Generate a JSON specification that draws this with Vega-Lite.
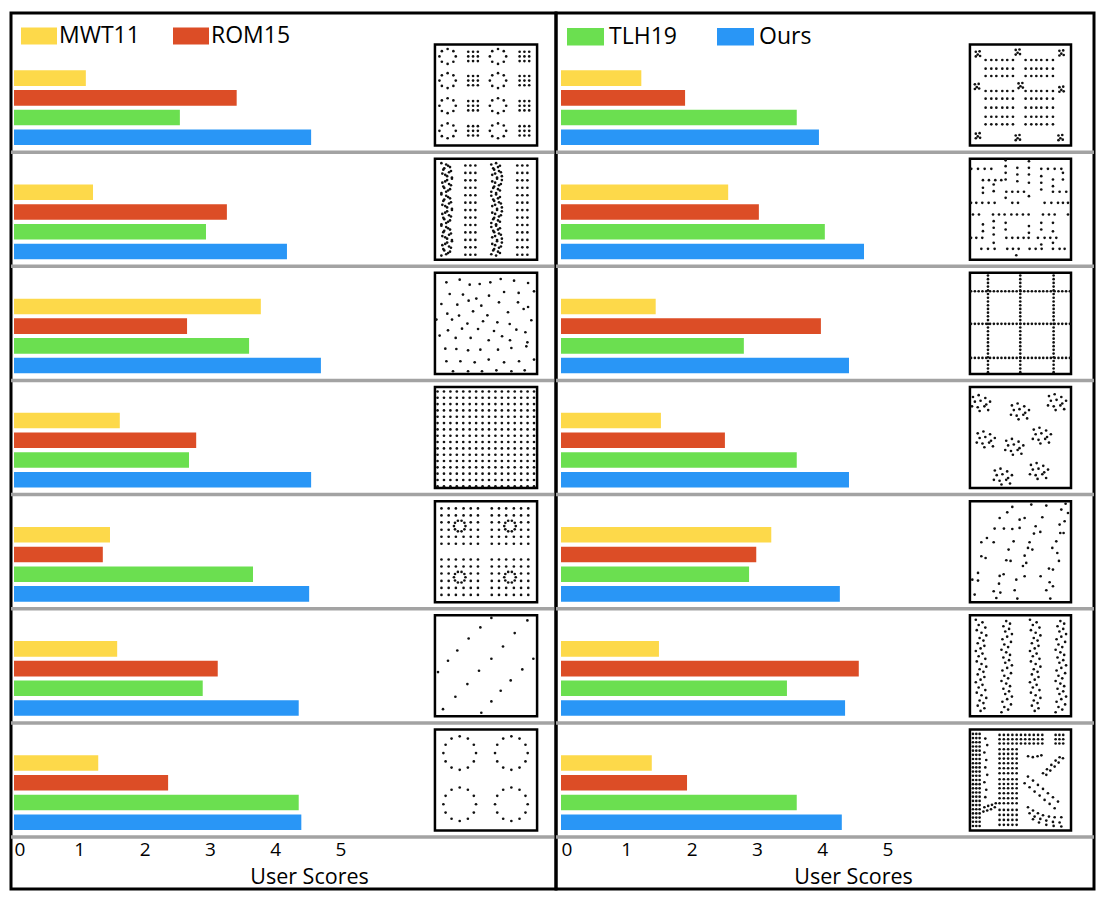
{
  "$schema": "https://vega.github.io/schema/vega-lite/v6.json",
  "padding": {"left": 7, "top": 11, "right": 10, "bottom": 9},
  "autosize": {"type": "pad"},
  "background": "white",
  "spacing": 0,
  "bounds": "flush",
  "config": {
    "font": "Open Sans",
    "view": {"stroke": "black", "strokeWidth": 3},
    "axis": {"labelFont": "Open Sans", "labelFontSize": 19, "labelColor": "black", "titleFont": "Open Sans", "titleFontSize": 21.5, "titleFontWeight": "normal", "titleColor": "black", "grid": false, "ticks": false, "domain": false},
    "legend": {"labelFont": "Open Sans", "labelFontSize": 23, "labelColor": "black"}
  },
  "datasets": {
    "bars": [
      {"panel": "L", "group": 1, "method": "MWT11", "score": 1.10},
      {"panel": "L", "group": 1, "method": "ROM15", "score": 3.41},
      {"panel": "L", "group": 1, "method": "TLH19", "score": 2.54},
      {"panel": "L", "group": 1, "method": "Ours", "score": 4.55},
      {"panel": "L", "group": 2, "method": "MWT11", "score": 1.21},
      {"panel": "L", "group": 2, "method": "ROM15", "score": 3.26},
      {"panel": "L", "group": 2, "method": "TLH19", "score": 2.94},
      {"panel": "L", "group": 2, "method": "Ours", "score": 4.18},
      {"panel": "L", "group": 3, "method": "MWT11", "score": 3.78},
      {"panel": "L", "group": 3, "method": "ROM15", "score": 2.65},
      {"panel": "L", "group": 3, "method": "TLH19", "score": 3.60},
      {"panel": "L", "group": 3, "method": "Ours", "score": 4.70},
      {"panel": "L", "group": 4, "method": "MWT11", "score": 1.62},
      {"panel": "L", "group": 4, "method": "ROM15", "score": 2.79},
      {"panel": "L", "group": 4, "method": "TLH19", "score": 2.68},
      {"panel": "L", "group": 4, "method": "Ours", "score": 4.55},
      {"panel": "L", "group": 5, "method": "MWT11", "score": 1.47},
      {"panel": "L", "group": 5, "method": "ROM15", "score": 1.36},
      {"panel": "L", "group": 5, "method": "TLH19", "score": 3.66},
      {"panel": "L", "group": 5, "method": "Ours", "score": 4.52},
      {"panel": "L", "group": 6, "method": "MWT11", "score": 1.58},
      {"panel": "L", "group": 6, "method": "ROM15", "score": 3.12},
      {"panel": "L", "group": 6, "method": "TLH19", "score": 2.89},
      {"panel": "L", "group": 6, "method": "Ours", "score": 4.36},
      {"panel": "L", "group": 7, "method": "MWT11", "score": 1.29},
      {"panel": "L", "group": 7, "method": "ROM15", "score": 2.36},
      {"panel": "L", "group": 7, "method": "TLH19", "score": 4.36},
      {"panel": "L", "group": 7, "method": "Ours", "score": 4.40},
      {"panel": "R", "group": 1, "method": "MWT11", "score": 1.23},
      {"panel": "R", "group": 1, "method": "ROM15", "score": 1.90},
      {"panel": "R", "group": 1, "method": "TLH19", "score": 3.61},
      {"panel": "R", "group": 1, "method": "Ours", "score": 3.95},
      {"panel": "R", "group": 2, "method": "MWT11", "score": 2.56},
      {"panel": "R", "group": 2, "method": "ROM15", "score": 3.03},
      {"panel": "R", "group": 2, "method": "TLH19", "score": 4.04},
      {"panel": "R", "group": 2, "method": "Ours", "score": 4.64},
      {"panel": "R", "group": 3, "method": "MWT11", "score": 1.45},
      {"panel": "R", "group": 3, "method": "ROM15", "score": 3.98},
      {"panel": "R", "group": 3, "method": "TLH19", "score": 2.80},
      {"panel": "R", "group": 3, "method": "Ours", "score": 4.41},
      {"panel": "R", "group": 4, "method": "MWT11", "score": 1.53},
      {"panel": "R", "group": 4, "method": "ROM15", "score": 2.51},
      {"panel": "R", "group": 4, "method": "TLH19", "score": 3.61},
      {"panel": "R", "group": 4, "method": "Ours", "score": 4.41},
      {"panel": "R", "group": 5, "method": "MWT11", "score": 3.22},
      {"panel": "R", "group": 5, "method": "ROM15", "score": 2.99},
      {"panel": "R", "group": 5, "method": "TLH19", "score": 2.88},
      {"panel": "R", "group": 5, "method": "Ours", "score": 4.27},
      {"panel": "R", "group": 6, "method": "MWT11", "score": 1.50},
      {"panel": "R", "group": 6, "method": "ROM15", "score": 4.56},
      {"panel": "R", "group": 6, "method": "TLH19", "score": 3.46},
      {"panel": "R", "group": 6, "method": "Ours", "score": 4.35},
      {"panel": "R", "group": 7, "method": "MWT11", "score": 1.39},
      {"panel": "R", "group": 7, "method": "ROM15", "score": 1.93},
      {"panel": "R", "group": 7, "method": "TLH19", "score": 3.61},
      {"panel": "R", "group": 7, "method": "Ours", "score": 4.30}
    ],
    "dots": [
      {"p": "L", "group": 1, "u": [0.1,0.16,0.185,0.16,0.1,0.04,0.015,0.04,0.625,0.685,0.71,0.685,0.625,0.565,0.54,0.565], "v": [0,0.023,0.08,0.137,0.16,0.137,0.08,0.023,0,0.023,0.08,0.137,0.16,0.137,0.08,0.023]},
      {"p": "L", "group": 1, "u": [0.1,0.16,0.185,0.16,0.1,0.04,0.015,0.04,0.625,0.685,0.71,0.685,0.625,0.565,0.54,0.565], "v": [0.26,0.283,0.34,0.397,0.42,0.397,0.34,0.283,0.26,0.283,0.34,0.397,0.42,0.397,0.34,0.283]},
      {"p": "L", "group": 1, "u": [0.1,0.16,0.185,0.16,0.1,0.04,0.015,0.04,0.625,0.685,0.71,0.685,0.625,0.565,0.54,0.565], "v": [0.53,0.553,0.61,0.667,0.69,0.667,0.61,0.553,0.53,0.553,0.61,0.667,0.69,0.667,0.61,0.553]},
      {"p": "L", "group": 1, "u": [0.1,0.16,0.185,0.16,0.1,0.04,0.015,0.04,0.625,0.685,0.71,0.685,0.625,0.565,0.54,0.565], "v": [0.8,0.823,0.88,0.937,0.96,0.937,0.88,0.823,0.8,0.823,0.88,0.937,0.96,0.937,0.88,0.823]},
      {"p": "L", "group": 1, "u": [0.315,0.365,0.415,0.85,0.9,0.95,0.315,0.365,0.415,0.85,0.9,0.95,0.315,0.365,0.415,0.85,0.9,0.95], "v": [0.03,0.03,0.03,0.03,0.03,0.03,0.08,0.08,0.08,0.08,0.08,0.08,0.13,0.13,0.13,0.13,0.13,0.13]},
      {"p": "L", "group": 1, "u": [0.315,0.365,0.415,0.85,0.9,0.95,0.315,0.365,0.415,0.85,0.9,0.95,0.315,0.365,0.415,0.85,0.9,0.95], "v": [0.29,0.29,0.29,0.29,0.29,0.29,0.34,0.34,0.34,0.34,0.34,0.34,0.39,0.39,0.39,0.39,0.39,0.39]},
      {"p": "L", "group": 1, "u": [0.315,0.365,0.415,0.85,0.9,0.95,0.315,0.365,0.415,0.85,0.9,0.95,0.315,0.365,0.415,0.85,0.9,0.95], "v": [0.56,0.56,0.56,0.56,0.56,0.56,0.61,0.61,0.61,0.61,0.61,0.61,0.66,0.66,0.66,0.66,0.66,0.66]},
      {"p": "L", "group": 1, "u": [0.315,0.365,0.415,0.85,0.9,0.95,0.315,0.365,0.415,0.85,0.9,0.95,0.315,0.365,0.415,0.85,0.9,0.95], "v": [0.83,0.83,0.83,0.83,0.83,0.83,0.88,0.88,0.88,0.88,0.88,0.88,0.93,0.93,0.93,0.93,0.93,0.93]},

      {"p": "L", "group": 2, "u": [0.285,0.337,0.389,0.826,0.878,0.931,0.285,0.337,0.389,0.826,0.878,0.931,0.285,0.337,0.389,0.826,0.878,0.931], "v": [0.025,0.025,0.025,0.025,0.025,0.025,0.105,0.105,0.105,0.105,0.105,0.105,0.185,0.185,0.185,0.185,0.185,0.185]},
      {"p": "L", "group": 2, "u": [0.285,0.337,0.389,0.826,0.878,0.931,0.285,0.337,0.389,0.826,0.878,0.931,0.285,0.337,0.389,0.826,0.878,0.931], "v": [0.265,0.265,0.265,0.265,0.265,0.265,0.345,0.345,0.345,0.345,0.345,0.345,0.425,0.425,0.425,0.425,0.425,0.425]},
      {"p": "L", "group": 2, "u": [0.285,0.337,0.389,0.826,0.878,0.931,0.285,0.337,0.389,0.826,0.878,0.931,0.285,0.337,0.389,0.826,0.878,0.931], "v": [0.505,0.505,0.505,0.505,0.505,0.505,0.585,0.585,0.585,0.585,0.585,0.585,0.665,0.665,0.665,0.665,0.665,0.665]},
      {"p": "L", "group": 2, "u": [0.285,0.337,0.389,0.826,0.878,0.931,0.285,0.337,0.389,0.826,0.878,0.931,0.285,0.337,0.389,0.826,0.878,0.931], "v": [0.745,0.745,0.745,0.745,0.745,0.745,0.825,0.825,0.825,0.825,0.825,0.825,0.905,0.905,0.905,0.905,0.905,0.905]},
      {"p": "L", "group": 2, "u": [0.285,0.337,0.389,0.826,0.878,0.931], "v": [0.985,0.985,0.985,0.985,0.985,0.985]},
      {"p": "L", "group": 2, "u": [0.035,0.105,0.065,0.135,0.045,0.095,0.145,0.075,0.115,0.055,0.125,0.085,0.035,0.105,0.065,0.135,0.045,0.095,0.145,0.075,0.115,0.055,0.125,0.085,0.035,0.105,0.065,0.135,0.045,0.095,0.145,0.075,0.115,0.055,0.125,0.085], "v": [0,0.028,0.056,0.084,0.112,0.14,0.168,0.196,0.224,0.252,0.28,0.308,0.336,0.364,0.392,0.42,0.448,0.476,0.504,0.532,0.56,0.588,0.616,0.644,0.672,0.7,0.728,0.756,0.784,0.812,0.84,0.868,0.896,0.924,0.952,0.98]},
      {"p": "L", "group": 2, "u": [0.085,0.125,0.055,0.115,0.075,0.145,0.095,0.045,0.135,0.065,0.105,0.035,0.085,0.125,0.055,0.115,0.075,0.145,0.095,0.045,0.135,0.065,0.105,0.035,0.085,0.125,0.055,0.115,0.075,0.145,0.095,0.045,0.135,0.065,0.105,0.035], "v": [0.014,0.042,0.07,0.098,0.126,0.154,0.182,0.21,0.238,0.266,0.294,0.322,0.35,0.378,0.406,0.434,0.462,0.49,0.518,0.546,0.574,0.602,0.63,0.658,0.686,0.714,0.742,0.77,0.798,0.826,0.854,0.882,0.91,0.938,0.966,0.994]},
      {"p": "L", "group": 2, "u": [0.555,0.625,0.585,0.655,0.565,0.615,0.665,0.595,0.635,0.575,0.645,0.605,0.555,0.625,0.585,0.655,0.565,0.615,0.665,0.595,0.635,0.575,0.645,0.605,0.555,0.625,0.585,0.655,0.565,0.615,0.665,0.595,0.635,0.575,0.645,0.605], "v": [0.014,0.042,0.07,0.098,0.126,0.154,0.182,0.21,0.238,0.266,0.294,0.322,0.35,0.378,0.406,0.434,0.462,0.49,0.518,0.546,0.574,0.602,0.63,0.658,0.686,0.714,0.742,0.77,0.798,0.826,0.854,0.882,0.91,0.938,0.966,0.994]},
      {"p": "L", "group": 2, "u": [0.605,0.645,0.575,0.635,0.595,0.665,0.615,0.565,0.655,0.585,0.625,0.555,0.605,0.645,0.575,0.635,0.595,0.665,0.615,0.565,0.655,0.585,0.625,0.555,0.605,0.645,0.575,0.635,0.595,0.665,0.615,0.565,0.655,0.585,0.625,0.555], "v": [0,0.028,0.056,0.084,0.112,0.14,0.168,0.196,0.224,0.252,0.28,0.308,0.336,0.364,0.392,0.42,0.448,0.476,0.504,0.532,0.56,0.588,0.616,0.644,0.672,0.7,0.728,0.756,0.784,0.812,0.84,0.868,0.896,0.924,0.952,0.98]},

      {"p": "L", "group": 3, "u": [0.087,0.226,0.33,0.434,0.545,0.653,0.792,0.938,0.122,0.26,0.399,0.531,0.688,0.84,1.0,0.035,0.201,0.319,0.451,0.635,0.833,0.938,0.097,0.219,0.365,0.514,0.729,0.892,-0.017,0.146,0.306,0.469,0.618,0.747,0.972,0.104,0.25,0.417,0.583,0.816,0.91,0.017,0.184,0.34,0.528,0.667,0.75,0.931,0.076,0.191,0.313,0.441,0.625,0.764,0.92,0.087,0.233,0.382,0.528,0.688,0.844,1.0,0.156,0.313,0.458,0.608,0.764,0.903], "v": [0.054,0.025,0.079,0.072,0.054,0.018,0.036,0.061,0.179,0.186,0.229,0.197,0.158,0.168,0.151,0.287,0.294,0.251,0.305,0.269,0.269,0.319,0.391,0.412,0.366,0.409,0.376,0.341,0.455,0.455,0.498,0.473,0.484,0.502,0.462,0.57,0.552,0.556,0.577,0.563,0.591,0.627,0.652,0.652,0.677,0.634,0.677,0.699,0.767,0.771,0.785,0.778,0.778,0.76,0.742,0.903,0.903,0.914,0.885,0.914,0.903,0.885,1.01,1.01,1.01,1.0,1.01,1.0]},

      {"p": "L", "group": 4, "u": [-0.005,0.062,0.129,0.196,0.263,0.33,0.397,0.464,0.531,0.598,0.665,0.732,0.799,0.866,0.933,1.0], "v": [0,0,0,0,0,0,0,0,0,0,0,0,0,0,0,0]},
      {"p": "L", "group": 4, "u": [-0.005,0.062,0.129,0.196,0.263,0.33,0.397,0.464,0.531,0.598,0.665,0.732,0.799,0.866,0.933,1.0], "v": [0.068,0.068,0.068,0.068,0.068,0.068,0.068,0.068,0.068,0.068,0.068,0.068,0.068,0.068,0.068,0.068]},
      {"p": "L", "group": 4, "u": [-0.005,0.062,0.129,0.196,0.263,0.33,0.397,0.464,0.531,0.598,0.665,0.732,0.799,0.866,0.933,1.0], "v": [0.136,0.136,0.136,0.136,0.136,0.136,0.136,0.136,0.136,0.136,0.136,0.136,0.136,0.136,0.136,0.136]},
      {"p": "L", "group": 4, "u": [-0.005,0.062,0.129,0.196,0.263,0.33,0.397,0.464,0.531,0.598,0.665,0.732,0.799,0.866,0.933,1.0], "v": [0.204,0.204,0.204,0.204,0.204,0.204,0.204,0.204,0.204,0.204,0.204,0.204,0.204,0.204,0.204,0.204]},
      {"p": "L", "group": 4, "u": [-0.005,0.062,0.129,0.196,0.263,0.33,0.397,0.464,0.531,0.598,0.665,0.732,0.799,0.866,0.933,1.0], "v": [0.272,0.272,0.272,0.272,0.272,0.272,0.272,0.272,0.272,0.272,0.272,0.272,0.272,0.272,0.272,0.272]},
      {"p": "L", "group": 4, "u": [-0.005,0.062,0.129,0.196,0.263,0.33,0.397,0.464,0.531,0.598,0.665,0.732,0.799,0.866,0.933,1.0], "v": [0.34,0.34,0.34,0.34,0.34,0.34,0.34,0.34,0.34,0.34,0.34,0.34,0.34,0.34,0.34,0.34]},
      {"p": "L", "group": 4, "u": [-0.005,0.062,0.129,0.196,0.263,0.33,0.397,0.464,0.531,0.598,0.665,0.732,0.799,0.866,0.933,1.0], "v": [0.408,0.408,0.408,0.408,0.408,0.408,0.408,0.408,0.408,0.408,0.408,0.408,0.408,0.408,0.408,0.408]},
      {"p": "L", "group": 4, "u": [-0.005,0.062,0.129,0.196,0.263,0.33,0.397,0.464,0.531,0.598,0.665,0.732,0.799,0.866,0.933,1.0], "v": [0.476,0.476,0.476,0.476,0.476,0.476,0.476,0.476,0.476,0.476,0.476,0.476,0.476,0.476,0.476,0.476]},
      {"p": "L", "group": 4, "u": [-0.005,0.062,0.129,0.196,0.263,0.33,0.397,0.464,0.531,0.598,0.665,0.732,0.799,0.866,0.933,1.0], "v": [0.544,0.544,0.544,0.544,0.544,0.544,0.544,0.544,0.544,0.544,0.544,0.544,0.544,0.544,0.544,0.544]},
      {"p": "L", "group": 4, "u": [-0.005,0.062,0.129,0.196,0.263,0.33,0.397,0.464,0.531,0.598,0.665,0.732,0.799,0.866,0.933,1.0], "v": [0.612,0.612,0.612,0.612,0.612,0.612,0.612,0.612,0.612,0.612,0.612,0.612,0.612,0.612,0.612,0.612]},
      {"p": "L", "group": 4, "u": [-0.005,0.062,0.129,0.196,0.263,0.33,0.397,0.464,0.531,0.598,0.665,0.732,0.799,0.866,0.933,1.0], "v": [0.68,0.68,0.68,0.68,0.68,0.68,0.68,0.68,0.68,0.68,0.68,0.68,0.68,0.68,0.68,0.68]},
      {"p": "L", "group": 4, "u": [-0.005,0.062,0.129,0.196,0.263,0.33,0.397,0.464,0.531,0.598,0.665,0.732,0.799,0.866,0.933,1.0], "v": [0.748,0.748,0.748,0.748,0.748,0.748,0.748,0.748,0.748,0.748,0.748,0.748,0.748,0.748,0.748,0.748]},
      {"p": "L", "group": 4, "u": [-0.005,0.062,0.129,0.196,0.263,0.33,0.397,0.464,0.531,0.598,0.665,0.732,0.799,0.866,0.933,1.0], "v": [0.816,0.816,0.816,0.816,0.816,0.816,0.816,0.816,0.816,0.816,0.816,0.816,0.816,0.816,0.816,0.816]},
      {"p": "L", "group": 4, "u": [-0.005,0.062,0.129,0.196,0.263,0.33,0.397,0.464,0.531,0.598,0.665,0.732,0.799,0.866,0.933,1.0], "v": [0.884,0.884,0.884,0.884,0.884,0.884,0.884,0.884,0.884,0.884,0.884,0.884,0.884,0.884,0.884,0.884]},
      {"p": "L", "group": 4, "u": [-0.005,0.062,0.129,0.196,0.263,0.33,0.397,0.464,0.531,0.598,0.665,0.732,0.799,0.866,0.933,1.0], "v": [0.952,0.952,0.952,0.952,0.952,0.952,0.952,0.952,0.952,0.952,0.952,0.952,0.952,0.952,0.952,0.952]},
      {"p": "L", "group": 4, "u": [-0.005,0.062,0.129,0.196,0.263,0.33,0.397,0.464,0.531,0.598,0.665,0.732,0.799,0.866,0.933,1.0], "v": [1.02,1.02,1.02,1.02,1.02,1.02,1.02,1.02,1.02,1.02,1.02,1.02,1.02,1.02,1.02,1.02]},

      {"p": "L", "group": 5, "u": [0.036,0.111,0.186,0.266,0.341,0.416,0.56,0.635,0.71,0.79,0.865,0.94,0.036,0.111,0.186,0.266,0.341,0.416,0.56,0.635,0.71,0.79,0.865,0.94], "v": [0.03,0.03,0.03,0.03,0.03,0.03,0.03,0.03,0.03,0.03,0.03,0.03,0.105,0.105,0.105,0.105,0.105,0.105,0.105,0.105,0.105,0.105,0.105,0.105]},
      {"p": "L", "group": 5, "u": [0.036,0.111,0.341,0.416,0.56,0.635,0.865,0.94,0.036,0.111,0.341,0.416,0.56,0.635,0.865,0.94], "v": [0.18,0.18,0.18,0.18,0.18,0.18,0.18,0.18,0.26,0.26,0.26,0.26,0.26,0.26,0.26,0.26]},
      {"p": "L", "group": 5, "u": [0.036,0.111,0.186,0.266,0.341,0.416,0.56,0.635,0.71,0.79,0.865,0.94,0.036,0.111,0.186,0.266,0.341,0.416,0.56,0.635,0.71,0.79,0.865,0.94], "v": [0.335,0.335,0.335,0.335,0.335,0.335,0.335,0.335,0.335,0.335,0.335,0.335,0.41,0.41,0.41,0.41,0.41,0.41,0.41,0.41,0.41,0.41,0.41,0.41]},
      {"p": "L", "group": 5, "u": [0.036,0.111,0.186,0.266,0.341,0.416,0.56,0.635,0.71,0.79,0.865,0.94,0.036,0.111,0.186,0.266,0.341,0.416,0.56,0.635,0.71,0.79,0.865,0.94], "v": [0.58,0.58,0.58,0.58,0.58,0.58,0.58,0.58,0.58,0.58,0.58,0.58,0.655,0.655,0.655,0.655,0.655,0.655,0.655,0.655,0.655,0.655,0.655,0.655]},
      {"p": "L", "group": 5, "u": [0.036,0.111,0.341,0.416,0.56,0.635,0.865,0.94,0.036,0.111,0.341,0.416,0.56,0.635,0.865,0.94], "v": [0.73,0.73,0.73,0.73,0.73,0.73,0.73,0.73,0.81,0.81,0.81,0.81,0.81,0.81,0.81,0.81]},
      {"p": "L", "group": 5, "u": [0.036,0.111,0.186,0.266,0.341,0.416,0.56,0.635,0.71,0.79,0.865,0.94,0.036,0.111,0.186,0.266,0.341,0.416,0.56,0.635,0.71,0.79,0.865,0.94], "v": [0.885,0.885,0.885,0.885,0.885,0.885,0.885,0.885,0.885,0.885,0.885,0.885,0.96,0.96,0.96,0.96,0.96,0.96,0.96,0.96,0.96,0.96,0.96,0.96]},
      {"p": "L", "group": 5, "u": [0.286,0.275,0.245,0.207,0.177,0.166,0.177,0.207,0.245,0.275,0.81,0.799,0.769,0.731,0.701,0.69,0.701,0.731,0.769,0.799], "v": [0.22,0.255,0.277,0.277,0.255,0.22,0.185,0.163,0.163,0.185,0.22,0.255,0.277,0.277,0.255,0.22,0.185,0.163,0.163,0.185]},
      {"p": "L", "group": 5, "u": [0.286,0.275,0.245,0.207,0.177,0.166,0.177,0.207,0.245,0.275,0.81,0.799,0.769,0.731,0.701,0.69,0.701,0.731,0.769,0.799], "v": [0.77,0.805,0.827,0.827,0.805,0.77,0.735,0.713,0.713,0.735,0.77,0.805,0.827,0.827,0.805,0.77,0.735,0.713,0.713,0.735]},

      {"p": "L", "group": 6, "u": [0.556,0.931,0.441,0.799,0.319,0.677,0.201,0.556,0.993,0.104,0.878,0.0,0.427,0.757,0.306,0.653,0.181,0.556,0.052,0.451], "v": [-0.02,0.007,0.082,0.143,0.201,0.287,0.33,0.419,0.419,0.441,0.534,0.563,0.548,0.652,0.692,0.763,0.828,0.878,0.961,1.0]},

      {"p": "L", "group": 7, "u": [0.396,0.373,0.311,0.226,0.141,0.079,0.056,0.079,0.141,0.226,0.311,0.373,0.934,0.911,0.849,0.764,0.679,0.617,0.594,0.617,0.679,0.764,0.849,0.911], "v": [0.206,0.296,0.362,0.386,0.362,0.296,0.206,0.116,0.05,0.026,0.05,0.116,0.206,0.296,0.362,0.386,0.362,0.296,0.206,0.116,0.05,0.026,0.05,0.116]},
      {"p": "L", "group": 7, "u": [0.396,0.373,0.311,0.226,0.141,0.079,0.056,0.079,0.141,0.226,0.311,0.373,0.934,0.911,0.849,0.764,0.679,0.617,0.594,0.617,0.679,0.764,0.849,0.911], "v": [0.756,0.846,0.912,0.936,0.912,0.846,0.756,0.666,0.6,0.576,0.6,0.666,0.756,0.846,0.912,0.936,0.912,0.846,0.756,0.666,0.6,0.576,0.6,0.666]},

      {"p": "R", "group": 1, "u": [0.133,0.193,0.246,0.309,0.361,0.421,0.554,0.614,0.667,0.719,0.779,0.842,0.133,0.193,0.246,0.309,0.361,0.421,0.554,0.614,0.667,0.719,0.779,0.842], "v": [0.118,0.118,0.118,0.118,0.118,0.118,0.118,0.118,0.118,0.118,0.118,0.118,0.211,0.211,0.211,0.211,0.211,0.211,0.211,0.211,0.211,0.211,0.211,0.211]},
      {"p": "R", "group": 1, "u": [0.133,0.193,0.246,0.309,0.361,0.421,0.554,0.614,0.667,0.719,0.779,0.842,0.133,0.193,0.246,0.309,0.361,0.421,0.554,0.614,0.667,0.719,0.779,0.842], "v": [0.29,0.29,0.29,0.29,0.29,0.29,0.29,0.29,0.29,0.29,0.29,0.29,0.452,0.452,0.452,0.452,0.452,0.452,0.452,0.452,0.452,0.452,0.452,0.452]},
      {"p": "R", "group": 1, "u": [0.133,0.193,0.246,0.309,0.361,0.421,0.554,0.614,0.667,0.719,0.779,0.842,0.133,0.193,0.246,0.309,0.361,0.421,0.554,0.614,0.667,0.719,0.779,0.842], "v": [0.534,0.534,0.534,0.534,0.534,0.534,0.534,0.534,0.534,0.534,0.534,0.534,0.631,0.631,0.631,0.631,0.631,0.631,0.631,0.631,0.631,0.631,0.631,0.631]},
      {"p": "R", "group": 1, "u": [0.133,0.193,0.246,0.309,0.361,0.421,0.554,0.614,0.667,0.719,0.779,0.842,0.133,0.193,0.246,0.309,0.361,0.421,0.554,0.614,0.667,0.719,0.779,0.842], "v": [0.728,0.728,0.728,0.728,0.728,0.728,0.728,0.728,0.728,0.728,0.728,0.728,0.81,0.81,0.81,0.81,0.81,0.81,0.81,0.81,0.81,0.81,0.81,0.81]},
      {"p": "R", "group": 1, "u": [0.03,0.07,0.05,0.075,0.03,0.45,0.49,0.47,0.495,0.45,0.91,0.95,0.93,0.955,0.91,0.02,0.06,0.04,0.065,0.02,0.48,0.52,0.5,0.525,0.48,0.91,0.95,0.93,0.955,0.91,0.03,0.07,0.05,0.075,0.03,0.45,0.49,0.47,0.495,0.45,0.9,0.94,0.92,0.945,0.9], "v": [0.03,0.025,0.06,0.075,0.08,0.01,0.005,0.04,0.055,0.06,0.02,0.015,0.05,0.065,0.07,0.38,0.375,0.41,0.425,0.43,0.37,0.365,0.4,0.415,0.42,0.41,0.405,0.44,0.455,0.46,0.91,0.905,0.94,0.955,0.96,0.93,0.925,0.96,0.975,0.98,0.93,0.925,0.96,0.975,0.98]},

      {"p": "R", "group": 2, "u": [-0.018,0.053,0.123,0.193,0.719,0.789,0.86,0.93,0.105,0.168,0.235,0.298,0.351,0.414,0.474,0.537,0.842,0.912,0.982,-0.02,0.035,0.098,0.165,0.228,0.414,0.474,0.754,0.825,0.895,0.947,0.0,0.063,0.211,0.274,0.333,0.404,0.463,0.526,0.586,0.737,0.8,0.86,-0.02,0.035,0.098,0.351,0.414,0.474,0.533,0.586,0.684,0.754,0.814,0.877,0.088,0.158,0.228,0.361,0.421,0.481,0.596,0.66,0.723,0.842,0.912,0.965,0.344,0.344,0.344,0.344,0.344,0.344,0.344,0.467,0.467,0.467,0.589,0.589,0.589,0.589,0.589,0.589,0.589,0.719,0.719,0.719,0.719,0.719,0.719,0.842,0.842,0.842,0.842,0.842,0.947,0.947,0.218,0.218,0.218,0.218,0.218,0.218,0.105,0.105,0.105,0.105,1.0,1.0,0.456], "v": [0.061,0.061,0.061,0.061,0.061,0.061,0.061,0.061,0.183,0.183,0.183,0.183,0.308,0.308,0.308,0.308,0.308,0.308,0.308,0.427,0.427,0.427,0.427,0.427,0.427,0.427,0.427,0.427,0.427,0.427,0.552,0.552,0.552,0.552,0.552,0.552,0.552,0.552,0.552,0.552,0.552,0.552,0.803,0.803,0.803,0.803,0.803,0.803,0.803,0.803,0.803,0.803,0.803,0.803,0.921,0.921,0.921,0.921,0.921,0.921,0.921,0.921,0.921,0.921,0.921,0.921,-0.03,0.032,0.104,0.176,0.373,0.642,0.713,0.05,0.122,0.194,-0.02,0.05,0.122,0.211,0.355,0.677,0.749,0.14,0.211,0.283,0.642,0.713,0.875,0.176,0.247,0.642,0.733,0.857,0.104,0.176,0.624,0.695,0.767,0.857,0.229,0.301,0.659,0.731,0.265,0.319,0.427,0.552,0.99]},

      {"p": "R", "group": 3, "u": [0.158,0.158,0.158,0.158,0.158,0.158,0.158,0.158,0.158,0.158,0.158,0.158,0.158,0.158,0.158,0.158,0.158,0.158,0.158,0.158,0.158,0.158,0.158,0.158,0.158,0.158,0.158], "v": [-0.02,0.02,0.06,0.1,0.14,0.18,0.22,0.26,0.3,0.34,0.38,0.42,0.46,0.5,0.54,0.58,0.62,0.66,0.7,0.74,0.78,0.82,0.86,0.9,0.94,0.98,1.02]},
      {"p": "R", "group": 3, "u": [0.498,0.498,0.498,0.498,0.498,0.498,0.498,0.498,0.498,0.498,0.498,0.498,0.498,0.498,0.498,0.498,0.498,0.498,0.498,0.498,0.498,0.498,0.498,0.498,0.498,0.498,0.498], "v": [-0.02,0.02,0.06,0.1,0.14,0.18,0.22,0.26,0.3,0.34,0.38,0.42,0.46,0.5,0.54,0.58,0.62,0.66,0.7,0.74,0.78,0.82,0.86,0.9,0.94,0.98,1.02]},
      {"p": "R", "group": 3, "u": [0.849,0.849,0.849,0.849,0.849,0.849,0.849,0.849,0.849,0.849,0.849,0.849,0.849,0.849,0.849,0.849,0.849,0.849,0.849,0.849,0.849,0.849,0.849,0.849,0.849,0.849,0.849], "v": [-0.02,0.02,0.06,0.1,0.14,0.18,0.22,0.26,0.3,0.34,0.38,0.42,0.46,0.5,0.54,0.58,0.62,0.66,0.7,0.74,0.78,0.82,0.86,0.9,0.94,0.98,1.02]},
      {"p": "R", "group": 3, "u": [-0.02,0.02,0.06,0.1,0.14,0.18,0.22,0.26,0.3,0.34,0.38,0.42,0.46,0.5,0.54,0.58,0.62,0.66,0.7,0.74,0.78,0.82,0.86,0.9,0.94,0.98,1.02], "v": [0.15,0.15,0.15,0.15,0.15,0.15,0.15,0.15,0.15,0.15,0.15,0.15,0.15,0.15,0.15,0.15,0.15,0.15,0.15,0.15,0.15,0.15,0.15,0.15,0.15,0.15,0.15]},
      {"p": "R", "group": 3, "u": [-0.02,0.02,0.06,0.1,0.14,0.18,0.22,0.26,0.3,0.34,0.38,0.42,0.46,0.5,0.54,0.58,0.62,0.66,0.7,0.74,0.78,0.82,0.86,0.9,0.94,0.98,1.02], "v": [0.5,0.5,0.5,0.5,0.5,0.5,0.5,0.5,0.5,0.5,0.5,0.5,0.5,0.5,0.5,0.5,0.5,0.5,0.5,0.5,0.5,0.5,0.5,0.5,0.5,0.5,0.5]},
      {"p": "R", "group": 3, "u": [-0.02,0.02,0.06,0.1,0.14,0.18,0.22,0.26,0.3,0.34,0.38,0.42,0.46,0.5,0.54,0.58,0.62,0.66,0.7,0.74,0.78,0.82,0.86,0.9,0.94,0.98,1.02], "v": [0.867,0.867,0.867,0.867,0.867,0.867,0.867,0.867,0.867,0.867,0.867,0.867,0.867,0.867,0.867,0.867,0.867,0.867,0.867,0.867,0.867,0.867,0.867,0.867,0.867,0.867,0.867]},

      {"p": "R", "group": 4, "u": [0,0.06,0.13,0.18,0.02,0.08,0.14,-0.01,0.05,0.12,0.16,0.07,0.41,0.47,0.54,0.59,0.43,0.49,0.55,0.4,0.46,0.53,0.57,0.48], "v": [0.06,0.04,0.07,0.11,0.11,0.1,0.14,0.16,0.17,0.16,0.2,0.21,0.15,0.13,0.16,0.2,0.2,0.19,0.23,0.25,0.26,0.25,0.29,0.3]},
      {"p": "R", "group": 4, "u": [0.8,0.86,0.93,0.98,0.82,0.88,0.94,0.79,0.85,0.92,0.96,0.87,0.05,0.11,0.18,0.23,0.07,0.13,0.19,0.04,0.1,0.17,0.21,0.12], "v": [0.05,0.03,0.06,0.1,0.1,0.09,0.13,0.15,0.16,0.15,0.19,0.2,0.45,0.43,0.46,0.5,0.5,0.49,0.53,0.55,0.56,0.55,0.59,0.6]},
      {"p": "R", "group": 4, "u": [0.64,0.7,0.77,0.82,0.66,0.72,0.78,0.63,0.69,0.76,0.8,0.71,0.35,0.41,0.48,0.53,0.37,0.43,0.49,0.34,0.4,0.47,0.51,0.42], "v": [0.41,0.39,0.42,0.46,0.46,0.45,0.49,0.51,0.52,0.51,0.55,0.56,0.53,0.51,0.54,0.58,0.58,0.57,0.61,0.63,0.64,0.63,0.67,0.68]},
      {"p": "R", "group": 4, "u": [0.23,0.29,0.36,0.41,0.25,0.31,0.37,0.22,0.28,0.35,0.39,0.3,0.61,0.67,0.74,0.79,0.63,0.69,0.75,0.6,0.66,0.73,0.77,0.68], "v": [0.85,0.83,0.86,0.9,0.9,0.89,0.93,0.95,0.96,0.95,0.99,1.0,0.79,0.77,0.8,0.84,0.84,0.83,0.87,0.89,0.9,0.89,0.93,0.94]},

      {"p": "R", "group": 5, "u": [0.614,0.772,0.414,0.975,0.93,1.0,0.361,0.281,0.544,0.491,0.73,0.912,0.965,0.228,0.326,0.414,0.66,0.709,0.491,0.642,0.147,0.088,0.218,0.428,0.596,0.919,0.954,0.877,0.579,0.625,0.375,0.835,0.888,0.088,0.133,0.544,0.351,0.396,0.905,0.526,0.561,0.8,0.842,0.053,0.281,0.323,-0.007,0.053,0.456,0.544,0.712,0.807,0.842,0.274,0.218,0.288,0.439,0.772,0.018,0.246,0.467,0.814], "v": [-0.011,0,0.014,-0.02,0.043,0.079,0.072,0.133,0.133,0.151,0.125,0.204,0.168,0.247,0.247,0.251,0.222,0.283,0.24,0.301,0.348,0.394,0.394,0.384,0.394,0.294,0.294,0.384,0.455,0.473,0.473,0.455,0.509,0.545,0.563,0.538,0.588,0.595,0.595,0.649,0.616,0.677,0.688,0.724,0.756,0.738,0.796,0.806,0.796,0.76,0.76,0.824,0.867,0.839,0.921,0.935,0.91,0.91,0.957,0.993,1.0,1.0]},

      {"p": "R", "group": 6, "u": [0.03,0.1,0.06,0.13,0.04,0.09,0.14,0.07,0.11,0.05,0.12,0.08,0.03,0.1,0.06,0.13,0.04,0.09,0.14,0.07,0.11,0.05,0.12,0.08,0.03,0.1,0.06,0.13,0.04,0.09,0.14,0.07,0.11,0.05,0.12,0.08], "v": [0,0.028,0.056,0.084,0.112,0.14,0.168,0.196,0.224,0.252,0.28,0.308,0.336,0.364,0.392,0.42,0.448,0.476,0.504,0.532,0.56,0.588,0.616,0.644,0.672,0.7,0.728,0.756,0.784,0.812,0.84,0.868,0.896,0.924,0.952,0.98]},
      {"p": "R", "group": 6, "u": [0.35,0.39,0.32,0.38,0.34,0.41,0.36,0.31,0.4,0.33,0.37,0.3,0.35,0.39,0.32,0.38,0.34,0.41,0.36,0.31,0.4,0.33,0.37,0.3,0.35,0.39,0.32,0.38,0.34,0.41,0.36,0.31,0.4,0.33,0.37,0.3], "v": [0.014,0.042,0.07,0.098,0.126,0.154,0.182,0.21,0.238,0.266,0.294,0.322,0.35,0.378,0.406,0.434,0.462,0.49,0.518,0.546,0.574,0.602,0.63,0.658,0.686,0.714,0.742,0.77,0.798,0.826,0.854,0.882,0.91,0.938,0.966,0.994]},
      {"p": "R", "group": 6, "u": [0.6,0.67,0.63,0.7,0.61,0.66,0.71,0.64,0.68,0.62,0.69,0.65,0.6,0.67,0.63,0.7,0.61,0.66,0.71,0.64,0.68,0.62,0.69,0.65,0.6,0.67,0.63,0.7,0.61,0.66,0.71,0.64,0.68,0.62,0.69,0.65], "v": [0,0.028,0.056,0.084,0.112,0.14,0.168,0.196,0.224,0.252,0.28,0.308,0.336,0.364,0.392,0.42,0.448,0.476,0.504,0.532,0.56,0.588,0.616,0.644,0.672,0.7,0.728,0.756,0.784,0.812,0.84,0.868,0.896,0.924,0.952,0.98]},
      {"p": "R", "group": 6, "u": [0.92,0.96,0.89,0.95,0.91,0.98,0.93,0.88,0.97,0.9,0.94,0.87,0.92,0.96,0.89,0.95,0.91,0.98,0.93,0.88,0.97,0.9,0.94,0.87,0.92,0.96,0.89,0.95,0.91,0.98,0.93,0.88,0.97,0.9,0.94,0.87], "v": [0.014,0.042,0.07,0.098,0.126,0.154,0.182,0.21,0.238,0.266,0.294,0.322,0.35,0.378,0.406,0.434,0.462,0.49,0.518,0.546,0.574,0.602,0.63,0.658,0.686,0.714,0.742,0.77,0.798,0.826,0.854,0.882,0.91,0.938,0.966,0.994]},

      {"p": "R", "group": 7, "u": [0,0,0,0,0,0,0,0,0,0,0,0,0,0,0,0,0,0,0,0,0,0,0], "v": [0,0.045,0.09,0.135,0.18,0.225,0.27,0.315,0.36,0.405,0.45,0.495,0.54,0.585,0.63,0.675,0.72,0.765,0.81,0.855,0.9,0.945,0.99]},
      {"p": "R", "group": 7, "u": [0.035,0.035,0.035,0.035,0.035,0.035,0.035,0.035,0.035,0.035,0.035,0.035,0.035,0.035,0.035,0.035,0.035,0.035,0.035,0.035,0.035,0.035,0.035], "v": [0,0.045,0.09,0.135,0.18,0.225,0.27,0.315,0.36,0.405,0.45,0.495,0.54,0.585,0.63,0.675,0.72,0.765,0.81,0.855,0.9,0.945,0.99]},
      {"p": "R", "group": 7, "u": [0.07,0.07,0.07,0.07,0.07,0.07,0.07,0.07,0.07,0.07,0.07,0.07,0.07,0.07,0.07,0.07,0.07,0.07,0.07,0.07,0.07,0.07,0.07], "v": [0,0.045,0.09,0.135,0.18,0.225,0.27,0.315,0.36,0.405,0.45,0.495,0.54,0.585,0.63,0.675,0.72,0.765,0.81,0.855,0.9,0.945,0.99]},
      {"p": "R", "group": 7, "u": [0.13,0.15,0.12,0.14,0.13,0.15,0.12,0.14,0.13], "v": [0.05,0.12,0.2,0.28,0.36,0.44,0.52,0.6,0.68]},
      {"p": "R", "group": 7, "u": [0.28,0.325,0.37,0.415,0.46,0.505,0.55,0.595,0.64,0.685,0.73,0.87,0.91,0.95,0.28,0.325,0.37,0.415,0.46,0.505,0.55,0.595,0.64,0.685,0.73,0.87,0.91,0.95,0.28,0.325,0.37,0.415,0.46,0.505,0.55,0.595,0.64,0.685,0.73,0.87,0.91,0.95], "v": [0.011,0.011,0.011,0.011,0.011,0.011,0.011,0.011,0.011,0.011,0.011,0.011,0.011,0.011,0.057,0.057,0.057,0.057,0.057,0.057,0.057,0.057,0.057,0.057,0.057,0.057,0.057,0.057,0.103,0.103,0.103,0.103,0.103,0.103,0.103,0.103,0.103,0.103,0.103,0.103,0.103,0.103]},
      {"p": "R", "group": 7, "u": [0.28,0.325,0.37,0.415,0.46,0.28,0.325,0.37,0.415,0.46,0.28,0.325,0.37,0.415,0.46,0.28,0.325,0.37,0.415,0.46], "v": [0.165,0.165,0.165,0.165,0.165,0.215,0.215,0.215,0.215,0.215,0.265,0.265,0.265,0.265,0.265,0.315,0.315,0.315,0.315,0.315]},
      {"p": "R", "group": 7, "u": [0.28,0.325,0.37,0.415,0.46,0.28,0.325,0.37,0.415,0.46,0.28,0.325,0.37,0.415,0.46,0.28,0.325,0.37,0.415,0.46], "v": [0.369,0.369,0.369,0.369,0.369,0.423,0.423,0.423,0.423,0.423,0.487,0.487,0.487,0.487,0.487,0.538,0.538,0.538,0.538,0.538]},
      {"p": "R", "group": 7, "u": [0.28,0.325,0.37,0.415,0.46,0.28,0.325,0.37,0.415,0.46,0.28,0.325,0.37,0.415,0.46,0.28,0.325,0.37,0.415,0.46], "v": [0.584,0.584,0.584,0.584,0.584,0.638,0.638,0.638,0.638,0.638,0.692,0.692,0.692,0.692,0.692,0.746,0.746,0.746,0.746,0.746]},
      {"p": "R", "group": 7, "u": [0.28,0.325,0.37,0.415,0.46,0.28,0.325,0.37,0.415,0.46,0.28,0.325,0.37,0.415,0.46,0.28,0.325,0.37,0.415,0.46], "v": [0.817,0.817,0.817,0.817,0.817,0.871,0.871,0.871,0.871,0.871,0.925,0.925,0.925,0.925,0.925,0.978,0.978,0.978,0.978,0.978]},
      {"p": "R", "group": 7, "u": [0.58,0.63,0.68,0.72,0.772,0.814,0.86,0.902,0.947,0.737,0.779,0.825,0.87,0.912], "v": [0.24,0.25,0.24,0.23,0.44,0.394,0.351,0.308,0.262,0.423,0.38,0.333,0.287,0.251]},
      {"p": "R", "group": 7, "u": [0.579,0.632,0.684,0.737,0.789,0.842,0.895,0.544,0.596,0.649,0.702,0.754,0.807,0.86], "v": [0.459,0.502,0.548,0.591,0.638,0.681,0.728,0.53,0.573,0.62,0.663,0.71,0.753,0.799]},
      {"p": "R", "group": 7, "u": [0.579,0.632,0.684,0.737,0.8,0.86,0.93,0.596,0.649,0.709,0.772,0.842,0.912,0.632,0.695,0.772,0.849,0.93,0.12,0.16,0.2,0.24,0.11,0.15,0.19,0.23], "v": [0.789,0.824,0.853,0.875,0.889,0.896,0.896,0.853,0.889,0.914,0.932,0.946,0.953,0.918,0.953,0.978,0.989,0.996,0.789,0.774,0.763,0.746,0.835,0.824,0.81,0.789]}
    ]
  },
  "hconcat": [
    {
      "width": 545,
      "height": 876,
      "layer": [
        {
          "data": {"name": "bars"},
          "transform": [{"filter": "datum.panel == 'L'"}],
          "mark": {"type": "bar"},
          "encoding": {
            "y": {"field": "group", "type": "ordinal", "axis": null, "scale": {"paddingInner": 0, "paddingOuter": 0.337, "align": 0.325}},
            "yOffset": {"field": "method", "type": "nominal", "sort": ["MWT11", "ROM15", "TLH19", "Ours"], "scale": {"paddingInner": 0.21, "paddingOuter": 1.109, "align": 0.82}},
            "x": {"field": "score", "type": "quantitative", "scale": {"domain": [-0.046, 8.3], "nice": false, "zero": false},
              "axis": {"values": [0, 1, 2, 3, 4, 5], "offset": -52, "labelPadding": 3, "labelFlush": false,
                "labelAlign": {"condition": {"test": "datum.value == 0", "value": "left"}, "value": "center"},
                "title": "User Scores", "titleX": 298, "titleY": 46, "titleAlign": "center", "titleBaseline": "alphabetic"}},
            "color": {"field": "method", "type": "nominal",
              "scale": {"domain": ["MWT11", "ROM15", "TLH19", "Ours"], "range": ["#FDD94A", "#DC4D26", "#6BDF50", "#2996F6"]},
              "legend": {"values": ["MWT11", "ROM15"], "orient": "none", "legendX": 10, "legendY": 5, "direction": "horizontal", "title": null,
                "symbolType": "M-1,-0.47H1V0.47H-1Z", "symbolSize": 1296, "symbolStrokeWidth": 0, "symbolOpacity": 1, "labelOffset": 2, "columnPadding": 33, "padding": 0}}
          }
        },
        {
          "data": {"name": "bars"},
          "transform": [{"filter": "datum.panel == 'L' && datum.method == 'Ours'"}],
          "mark": {"type": "rule", "color": "#a3a3a3", "strokeWidth": 3.5},
          "encoding": {"y": {"field": "group", "type": "ordinal", "bandPosition": 1}}
        },
        {
          "data": {"name": "bars"},
          "transform": [{"filter": "datum.panel == 'L' && datum.method == 'Ours'"}],
          "mark": {"type": "bar", "fill": "white", "stroke": "black", "strokeWidth": 2.5, "height": {"band": 0.885}},
          "encoding": {
            "y": {"field": "group", "type": "ordinal"},
            "x": {"datum": -0.032, "type": "quantitative", "scale": {"domain": [-4.448, 1.229], "nice": false, "zero": false}, "axis": null},
            "x2": {"datum": 1.032}
          }
        },
        {
          "data": {"name": "dots"},
          "transform": [{"filter": "datum.p == 'L'"}, {"flatten": ["u", "v"]}],
          "mark": {"type": "point", "filled": true, "size": 7, "color": "#111111", "opacity": 1},
          "encoding": {
            "y": {"field": "group", "type": "ordinal"},
            "yOffset": {"field": "v", "type": "quantitative", "scale": {"domain": [0, 1], "range": [11, 104], "nice": false, "zero": false}},
            "x": {"field": "u", "type": "quantitative", "scale": {"domain": [-4.448, 1.229], "nice": false, "zero": false}, "axis": null}
          }
        }
      ],
      "resolve": {"scale": {"x": "independent", "yOffset": "independent"}}
    },
    {
      "width": 538,
      "height": 876,
      "layer": [
        {
          "data": {"name": "bars"},
          "transform": [{"filter": "datum.panel == 'R'"}],
          "mark": {"type": "bar"},
          "encoding": {
            "y": {"field": "group", "type": "ordinal", "axis": null, "scale": {"paddingInner": 0, "paddingOuter": 0.337, "align": 0.325}},
            "yOffset": {"field": "method", "type": "nominal", "sort": ["MWT11", "ROM15", "TLH19", "Ours"], "scale": {"paddingInner": 0.21, "paddingOuter": 1.109, "align": 0.82}},
            "x": {"field": "score", "type": "quantitative", "scale": {"domain": [-0.0766, 8.162], "nice": false, "zero": false},
              "axis": {"values": [0, 1, 2, 3, 4, 5], "offset": -52, "labelPadding": 3, "labelFlush": false,
                "labelAlign": {"condition": {"test": "datum.value == 0", "value": "left"}, "value": "center"},
                "title": "User Scores", "titleX": 297, "titleY": 46, "titleAlign": "center", "titleBaseline": "alphabetic"}},
            "color": {"field": "method", "type": "nominal",
              "scale": {"domain": ["MWT11", "ROM15", "TLH19", "Ours"], "range": ["#FDD94A", "#DC4D26", "#6BDF50", "#2996F6"]},
              "legend": {"values": ["TLH19", "Ours"], "orient": "none", "legendX": 11, "legendY": 5, "direction": "horizontal", "title": null,
                "symbolType": "M-1,-0.47H1V0.47H-1Z", "symbolSize": 1369, "symbolStrokeWidth": 0, "symbolOpacity": 1, "labelOffset": 5, "columnPadding": 40, "padding": 0}}
          }
        },
        {
          "data": {"name": "bars"},
          "transform": [{"filter": "datum.panel == 'R' && datum.method == 'Ours'"}],
          "mark": {"type": "rule", "color": "#a3a3a3", "strokeWidth": 3.5},
          "encoding": {"y": {"field": "group", "type": "ordinal", "bandPosition": 1}}
        },
        {
          "data": {"name": "bars"},
          "transform": [{"filter": "datum.panel == 'R' && datum.method == 'Ours'"}],
          "mark": {"type": "bar", "fill": "white", "stroke": "black", "strokeWidth": 2.5, "height": {"band": 0.885}},
          "encoding": {
            "y": {"field": "group", "type": "ordinal"},
            "x": {"datum": -0.032, "type": "quantitative", "scale": {"domain": [-4.389, 1.274], "nice": false, "zero": false}, "axis": null},
            "x2": {"datum": 1.032}
          }
        },
        {
          "data": {"name": "dots"},
          "transform": [{"filter": "datum.p == 'R'"}, {"flatten": ["u", "v"]}],
          "mark": {"type": "point", "filled": true, "size": 7, "color": "#111111", "opacity": 1},
          "encoding": {
            "y": {"field": "group", "type": "ordinal"},
            "yOffset": {"field": "v", "type": "quantitative", "scale": {"domain": [0, 1], "range": [11, 104], "nice": false, "zero": false}},
            "x": {"field": "u", "type": "quantitative", "scale": {"domain": [-4.389, 1.274], "nice": false, "zero": false}, "axis": null}
          }
        }
      ],
      "resolve": {"scale": {"x": "independent", "yOffset": "independent"}}
    }
  ],
  "resolve": {"legend": {"color": "independent"}}
}
